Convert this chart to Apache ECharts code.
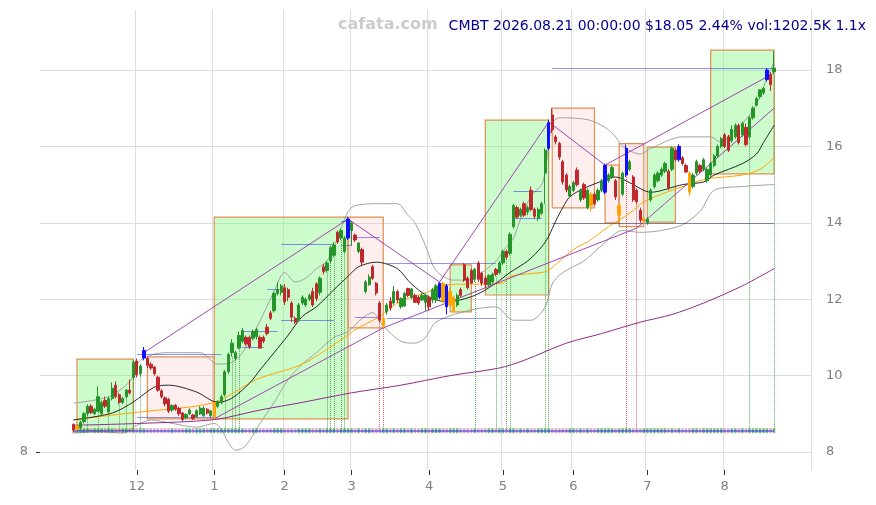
<!DOCTYPE html>
<html><head><meta charset="utf-8">
<script src="https://cdn.jsdelivr.net/npm/echarts@6/dist/echarts.min.js"></script>
<style>html,body{margin:0;padding:0;background:#fff}#c{width:876px;height:505px}</style>
</head><body><div id="c"></div>
<script>
// ---------- calendar ----------
const firstDay = '2025-11-04', lastDay = '2026-08-21';
const holidays = ['2025-11-27','2025-12-25','2026-01-01','2026-01-19','2026-02-16','2026-04-03','2026-05-25','2026-06-19','2026-07-03'];
const padBefore = 9, padAfter = 10;

// ---------- OHLC: [open, close, low, high] per trading day ----------
const ohlc = [
[8.72,8.58,8.52,8.75],[8.6,8.68,8.55,8.72],[8.64,8.78,8.6,8.82],[8.8,9.0,8.75,9.05],[9.0,9.2,8.95,9.25],
[9.2,9.03,9.0,9.25],[9.0,9.12,8.97,9.15],[9.07,9.45,9.05,9.72],[9.0,9.3,8.95,9.35],[9.35,9.2,9.15,9.45],
[9.05,9.4,9.0,9.45],[9.4,9.67,9.35,9.82],[9.75,9.45,9.4,9.85],[9.5,9.3,9.25,9.55],[9.3,9.4,9.25,9.45],
[9.45,9.62,9.4,9.65],[9.62,9.55,9.5,9.9],[9.95,10.35,9.9,10.42],[10.38,10.02,9.95,10.45],[10.05,10.25,9.98,10.3],
[10.46,10.66,10.4,10.75],[10.45,10.27,10.2,10.5],[10.3,10.2,10.15,10.35],[10.22,10.05,10.0,10.25],[9.96,9.62,9.58,10.0],
[9.6,9.45,9.4,9.65],[9.42,9.26,9.2,9.45],[9.38,9.07,9.02,9.42],[9.1,9.22,9.05,9.25],[9.22,9.12,9.08,9.26],
[9.14,9.0,8.95,9.18],[9.02,8.85,8.8,9.05],[8.9,8.98,8.85,9.02],[9.0,9.1,8.96,9.15],[8.97,8.87,8.84,9.0],
[8.93,9.08,8.9,9.12],[9.0,9.15,8.97,9.2],[8.95,9.15,8.92,9.2],[9.12,9.02,8.98,9.15],[8.95,9.08,8.9,9.1],
[8.92,9.28,8.87,9.3],[9.2,9.32,9.15,9.35],[9.3,9.45,9.25,9.5],[9.5,10.1,9.45,10.15],[10.1,10.55,10.05,10.6],
[10.6,10.85,10.5,10.95],[10.45,10.6,10.4,10.65],[10.72,11.05,10.7,11.15],[10.9,11.18,10.85,11.25],[11.0,10.83,10.78,11.05],
[11.0,10.75,10.7,11.05],[10.98,11.15,10.92,11.2],[11.02,11.2,10.95,11.25],[11.0,10.72,10.7,11.05],[11.0,10.9,10.85,11.05],
[11.27,11.1,11.05,11.35],[11.64,11.5,11.45,11.7],[11.7,12.15,11.65,12.2],[12.15,12.25,12.1,12.45],[12.18,12.35,12.1,12.4],
[12.3,11.93,11.85,12.4],[12.25,12.05,11.95,12.3],[11.9,11.53,11.4,11.95],[11.5,11.4,11.35,11.55],[11.45,11.85,11.4,11.9],
[11.9,12.05,11.85,12.1],[11.85,12.0,11.8,12.05],[12.0,12.1,11.95,12.15],[12.2,11.85,11.8,12.3],[12.4,12.02,11.95,12.45],
[12.18,12.55,12.1,12.6],[12.85,12.72,12.65,12.92],[12.75,12.95,12.7,13.0],[13.0,13.35,12.95,13.4],[13.15,13.42,13.1,13.5],
[13.75,13.5,13.45,13.8],[13.6,13.8,13.55,13.85],[13.25,13.6,13.2,13.65],[13.6,14.1,13.55,14.15],[13.8,14.0,13.4,14.05],
[13.68,13.55,13.5,13.72],[13.25,13.47,13.2,13.5],[13.3,12.97,12.9,13.35],[12.2,12.45,12.15,12.5],[12.38,12.58,12.35,12.65],
[12.85,12.55,12.5,12.9],[12.42,12.16,12.1,12.45],[11.9,11.45,11.4,11.95],[11.3,11.5,11.25,11.55],[11.67,11.85,11.6,11.9],
[11.95,11.77,11.7,12.05],[11.9,12.2,11.85,12.35],[12.2,11.98,11.9,12.25],[11.8,12.02,11.75,12.05],[11.82,12.15,11.8,12.2],
[12.28,12.1,12.05,12.3],[12.05,12.27,12.0,12.3],[12.1,11.92,11.9,12.15],[12.05,11.9,11.85,12.1],[11.98,12.1,11.95,12.15],
[11.92,12.1,11.7,12.15],[12.05,11.8,11.7,12.1],[11.98,12.25,11.9,12.3],[11.98,12.35,11.9,12.4],[12.05,12.42,12.0,12.45],
[12.42,11.95,11.9,12.45],[12.35,11.8,11.6,12.4],[11.85,12.2,11.8,12.3],[11.67,12.05,11.65,12.1],[11.85,12.1,11.8,12.15],
[12.25,12.1,12.05,12.3],[12.9,12.5,12.45,12.95],[12.55,12.3,12.25,12.6],[12.75,12.42,12.4,12.8],[12.52,12.78,12.45,12.82],
[12.95,12.52,12.45,13.0],[12.68,12.42,12.35,12.72],[12.55,12.38,12.3,12.6],[12.38,12.62,12.35,12.65],[12.45,12.65,12.4,12.7],
[12.78,12.65,12.6,12.82],[12.7,12.95,12.65,13.0],[12.95,13.25,12.9,13.3],[13.25,13.1,13.05,13.3],[13.2,13.7,13.15,13.75],
[13.9,14.45,13.85,14.5],[14.4,14.15,14.1,14.45],[14.2,14.35,14.15,14.4],[14.5,14.2,14.15,14.55],[14.28,14.4,14.2,14.45],
[14.85,14.35,14.3,14.95],[14.35,14.17,14.1,14.4],[14.12,14.35,14.05,14.4],[14.25,14.5,14.2,14.55],[15.3,15.9,14.5,15.95],
[15.95,16.62,15.9,16.7],[16.82,16.43,16.35,17.0],[16.25,16.12,16.05,16.3],[16.08,15.72,15.65,16.12],[15.6,15.07,15.0,15.65],
[15.25,14.86,14.8,15.3],[14.7,14.95,14.65,15.0],[14.85,15.05,14.8,15.1],[15.38,15.0,14.95,15.45],[14.6,14.85,14.55,14.9],
[15.0,14.65,14.6,15.05],[14.4,14.85,14.35,14.9],[14.75,14.45,14.3,14.8],[14.75,14.5,14.45,14.8],[14.6,14.85,14.55,14.9],
[14.85,15.1,14.8,15.15],[14.8,15.5,14.75,15.55],[15.1,15.25,15.05,15.3],[15.2,15.45,15.15,15.5],[15.1,14.68,14.6,15.15],
[14.2,14.45,14.0,14.5],[14.75,15.3,14.7,15.35],[15.25,15.95,15.2,16.05],[15.4,15.6,15.35,15.65],[15.2,14.6,14.55,15.25],
[14.85,14.55,14.5,14.9],[14.33,14.07,14.0,14.4],[14.05,14.12,13.95,14.15],[14.0,14.1,13.95,14.15],[14.6,14.85,14.55,14.9],
[14.95,15.25,14.9,15.3],[15.1,15.3,15.05,15.35],[15.25,15.4,15.2,15.45],[15.35,15.55,15.3,15.6],[15.35,14.92,14.85,15.4],
[15.4,15.95,15.35,16.0],[15.9,15.65,15.6,15.95],[15.65,16.0,15.6,16.05],[15.7,15.55,15.5,15.75],[15.5,15.33,15.3,15.55],
[15.3,14.8,14.7,15.35],[14.95,15.25,14.9,15.3],[15.3,15.6,15.25,15.65],[15.5,15.35,15.3,15.55],[15.4,15.65,15.35,15.7],
[15.1,15.4,15.05,15.45],[15.25,15.55,15.2,15.6],[15.5,15.75,15.45,15.8],[15.75,16.0,15.7,16.05],[16.0,16.2,15.95,16.25],
[16.3,16.0,15.95,16.35],[16.25,15.9,15.85,16.3],[16.15,16.45,16.1,16.55],[16.25,16.55,16.2,16.6],[16.55,16.1,16.05,16.6],
[16.3,16.6,16.25,16.65],[16.5,16.05,16.0,16.6],[16.25,16.75,16.2,16.8],[16.75,17.0,16.7,17.05],[17.08,17.25,17.05,17.3],
[17.3,17.48,17.25,17.5],[17.4,17.52,17.35,17.55],[17.75,18.0,17.7,18.05],[17.88,17.62,17.45,17.95],[17.95,18.05,17.9,18.5]
];
const blueBars = [20, 78, 104, 106, 135, 151, 157, 172, 197];
const orangeBars = [1, 40, 88, 105, 107, 108, 147, 155, 162, 175];

// ---------- indicator lines: [day index, value] ----------
const maBlack = [[0,8.84],[11,9.02],[17,9.31],[23,9.7],[27,9.75],[35,9.57],[39,9.36],[41,9.3],[45,9.41],[50,9.8],[53,10.15],[57,10.6],[61,11.06],[65,11.55],[69,11.8],[74,12.25],[78,12.6],[81,12.85],[86,12.97],[92,12.8],[96,12.4],[101,12.06],[106,11.93],[114,12.1],[120,12.42],[124,12.7],[129,13.0],[133,13.37],[135,13.65],[137,14.05],[139,14.4],[141,14.68],[145,14.9],[151,15.12],[154,15.2],[158,15.05],[164,14.8],[173,15.0],[179,15.07],[182,15.25],[190,15.55],[194,15.8],[196,16.1],[199,16.55]];
const maOrange = [[0,8.85],[19,9.05],[40,9.3],[52,9.9],[65,10.3],[77,11.0],[80,11.2],[87,11.55],[93,11.95],[101,12.2],[105,12.37],[122,12.42],[124,12.6],[133,12.7],[135,12.76],[142,13.3],[146,13.5],[152,13.9],[158,14.25],[162,14.55],[173,14.95],[180,15.15],[190,15.25],[195,15.4],[199,15.7]];
const maPurple = [[0,8.7],[19,8.75],[40,8.85],[53,9.1],[65,9.3],[79,9.55],[93,9.75],[107,10.0],[121,10.2],[128,10.4],[140,10.85],[150,11.1],[161,11.4],[170,11.6],[179,11.9],[190,12.35],[199,12.8]];
const bandUpper = [[0,9.28],[10,9.45],[16,9.85],[19,10.4],[26,10.6],[36,10.6],[41,10.3],[45,10.35],[48,10.6],[52,11.25],[57,12.2],[60,12.7],[63,12.45],[66,12.55],[69,12.8],[72,13.0],[75,13.6],[78,14.3],[80,14.45],[86,14.5],[92,14.5],[95,14.2],[97,14.0],[100,13.4],[103,12.75],[108,12.5],[112,12.5],[116,12.7],[120,13.0],[123,13.37],[125,13.6],[127,14.1],[130,14.7],[133,15.0],[134,15.35],[136,16.6],[138,16.75],[146,16.7],[151,16.5],[154,16.25],[156,16.0],[161,15.8],[164,15.95],[173,16.25],[178,16.25],[181,16.25],[184,16.1],[187,16.35],[190,16.6],[193,16.95],[195,17.3],[197,17.8],[199,18.2]];
const bandLower = [[0,8.5],[7,8.53],[14,8.5],[18,8.7],[22,8.84],[28,8.75],[35,8.65],[40,8.75],[42,8.6],[44,8.25],[46,8.05],[48,8.1],[50,8.3],[53,8.75],[57,9.3],[61,9.9],[65,10.3],[69,10.6],[74,11.0],[78,11.15],[82,11.5],[85,11.65],[88,11.3],[93,10.9],[97,10.85],[100,11.0],[103,11.4],[112,11.7],[120,11.8],[125,11.45],[130,11.45],[134,11.8],[136,12.4],[139,12.7],[145,13.0],[150,13.4],[156,13.8],[161,13.75],[167,13.8],[173,13.95],[178,14.3],[182,14.85],[190,14.95],[199,15.0]];

// ---------- pattern boxes: [start day, end day, low, high, kind] ----------
const boxes = [
[1,17,8.57,10.43,'up'],[21,40,8.87,10.49,'down'],[40,78,8.87,14.15,'up'],[78,88,11.25,14.15,'down'],
[107,113,11.67,12.9,'up'],[117,135,12.11,16.69,'up'],[136,148,14.39,17.0,'down'],[151,155,14.0,15.51,'down'],
[155,162,13.9,16.07,'down'],[163,171,14.02,15.98,'up'],[181,199,15.28,18.52,'up']
];
// support / resistance segments: [start day, end day, price]
const levels = [
[18,42,10.56],[18,40,8.92],[48,54,10.75],[48,58,11.15],[55,59,12.27],[59,74,13.45],[59,74,11.45],
[76,79,14.05],[76,79,13.42],[80,87,13.63],[80,87,11.53],[89,120,12.95],[89,120,11.5],
[125,133,14.83],[125,133,14.12],[136,199,18.05]
];
const darkLevels = [[136,199,14.0]];
const baseLevel = [[0,199,8.55]];
// swing zigzag through highs/lows, and line through the swing lows: [day, price] points
const zigzag = [[20,10.6],[78,14.1],[104,12.45],[135,16.64],[151,15.51],[199,17.92]];
const lowLine = [[40,8.87],[88,11.25],[160,13.86],[199,17.0]];
// signal days (dotted verticals)
const greenSignals = [4,7,10,13,15,17,19,43,45,46,47,72,73,74,76,77,114,120,123,124,134,135,192,199];
const redSignals = [87,88,157,160];
const yTicks = [8,10,12,14,16,18];

// ---------- build ----------
const allDays = [];
for (let t = Date.UTC(2025,9,1); t <= Date.UTC(2026,8,30); t += 86400000) {
  const d = new Date(t), wd = d.getUTCDay();
  if (wd === 0 || wd === 6) continue;
  const s = d.toISOString().slice(0,10);
  if (holidays.includes(s)) continue;
  allDays.push(s);
}
const i0 = allDays.indexOf(firstDay), i1 = allDays.indexOf(lastDay);
const categories = allDays.slice(i0 - padBefore, i1 + padAfter + 1);
const X = i => i + padBefore;
const UP = '#25952a', DOWN = '#c0282c';

const monthStart = k => {
  const i = k - padBefore;
  if (i <= 0 || i >= ohlc.length) return false;
  return categories[k].slice(5,7) !== categories[k-1].slice(5,7);
};

const candleData = categories.map((c, k) => {
  const i = k - padBefore;
  if (i < 0 || i >= ohlc.length) return '-';
  const v = ohlc[i];
  let col = null;
  if (blueBars.includes(i)) col = '#1010ff';
  if (orangeBars.includes(i)) col = '#ffa500';
  return col ? { value: v, itemStyle: { color: col, color0: col, borderColor: col, borderColor0: col } } : v;
});
const pairs = arr => arr.map(([i, v]) => [X(i), v]);
const segs = arr => arr.map(([a, b, p]) => ({ coords: [[X(a), p], [X(b), p]] }));
const stripData = ohlc.map((v, i) => ({ value: [X(i), 8.56], itemStyle: { color: v[1] >= v[0] ? 'rgba(50,150,60,0.8)' : 'rgba(200,100,130,0.65)' } }));

const lineSeries = (data, color, width, z) => ({
  type: 'line', data: pairs(data), symbol: 'none', smooth: 0.3, z: z || 3,
  lineStyle: { color, width }, silent: true, animation: false
});

const option = {
  animation: false,
  backgroundColor: '#fff',
  title: [
    { text: 'cafata.com', left: 333, top: 12, textStyle: { color: '#cccccc', fontSize: 16, fontWeight: 'bold', fontFamily: 'DejaVu Sans' } },
    { text: 'CMBT 2026.08.21 00:00:00 $18.05 2.44% vol:1202.5K 1.1x', right: 5, top: 14, textStyle: { color: '#00008b', fontSize: 14, fontWeight: 'normal', fontFamily: 'DejaVu Sans' } }
  ],
  grid: { left: 40, right: 65, top: 10, bottom: 35 },
  xAxis: {
    type: 'category', data: categories, boundaryGap: true,
    axisLine: { show: false },
    axisTick: { show: true, alignWithLabel: true, interval: (k) => monthStart(k), length: 5, lineStyle: { color: '#333' } },
    axisLabel: { interval: (k) => monthStart(k), formatter: v => String(parseInt(v.slice(5,7), 10)), color: '#808080', fontSize: 13, fontFamily: 'DejaVu Sans', margin: 10 },
    splitLine: { show: true, interval: (k) => monthStart(k), lineStyle: { color: '#dddddd', width: 1 } }
  },
  yAxis: [
    { type: 'value', position: 'right', min: 7.53, max: 19.57, scale: true,
      axisLine: { show: false },
      axisTick: { show: false, customValues: yTicks },
      axisLabel: { customValues: yTicks, color: '#808080', fontSize: 13, fontFamily: 'DejaVu Sans', margin: 15 },
      splitLine: { show: true, lineStyle: { color: '#dddddd', width: 1 } } },
    { type: 'value', position: 'left', min: 7.53, max: 19.57, scale: true,
      axisLine: { show: false },
      axisTick: { show: true, customValues: [8], length: 4, lineStyle: { color: '#333' } },
      axisLabel: { customValues: [8], color: '#808080', fontSize: 13, fontFamily: 'DejaVu Sans', margin: 12 },
      splitLine: { show: false } }
  ],
  series: [
    { type: 'custom', z: 1, silent: true,
      renderItem: (params, api) => {
        const p1 = api.coord([api.value(0), api.value(3)]);
        const p2 = api.coord([api.value(1), api.value(2)]);
        const up = api.value(4) === 1;
        return { type: 'rect', shape: { x: p1[0], y: p1[1], width: p2[0] - p1[0], height: p2[1] - p1[1] },
          style: { fill: up ? 'rgba(120,245,120,0.38)' : 'rgba(255,170,170,0.2)', stroke: '#e09050', lineWidth: 1.2 } };
      },
      encode: { x: [0, 1], y: [2, 3] },
      data: boxes.map(b => [X(b[0]), X(b[1]), b[2], b[3], b[4] === 'up' ? 1 : 0]) },
    lineSeries(bandUpper, '#999999', 0.9, 2),
    lineSeries(bandLower, '#999999', 0.9, 2),
    lineSeries(maPurple, '#8e2a8e', 1, 3),
    lineSeries(maOrange, '#ffa500', 1, 3),
    lineSeries(maBlack, '#111111', 0.9, 3),
    { type: 'lines', coordinateSystem: 'cartesian2d', polyline: true, z: 4, silent: true,
      lineStyle: { color: '#9933aa', width: 1, opacity: 0.9 },
      data: [{ coords: pairs(zigzag) }, { coords: pairs(lowLine) }] },
    { type: 'lines', coordinateSystem: 'cartesian2d', z: 3, silent: true,
      lineStyle: { color: '#3a9a3a', width: 1, type: 'dotted', opacity: 0.85 },
      data: greenSignals.map(i => ({ coords: [[X(i), ohlc[i][2]], [X(i), 8.57]] })) },
    { type: 'lines', coordinateSystem: 'cartesian2d', z: 3, silent: true,
      lineStyle: { color: '#d04848', width: 1, type: 'dotted', opacity: 0.85 },
      data: redSignals.map(i => ({ coords: [[X(i), ohlc[i][2]], [X(i), 8.57]] })) },
    { type: 'scatter', symbol: 'rect', symbolSize: [2.5, 5], z: 4, silent: true, data: stripData },
    { type: 'lines', coordinateSystem: 'cartesian2d', z: 5, silent: true,
      lineStyle: { color: '#2424ee', width: 1 }, data: segs(levels) },
    { type: 'lines', coordinateSystem: 'cartesian2d', z: 5, silent: true,
      lineStyle: { color: '#222255', width: 1 }, data: segs(darkLevels) },
    { type: 'lines', coordinateSystem: 'cartesian2d', z: 5, silent: true,
      lineStyle: { color: '#2a2aee', width: 2 }, data: segs(baseLevel) },
    { type: 'candlestick', data: candleData, z: 6, barWidth: 2.8,
      itemStyle: { color: UP, color0: DOWN, borderColor: UP, borderColor0: DOWN, borderWidth: 1 } }
  ]
};
const chart = echarts.init(document.getElementById('c'));
chart.setOption(option);
</script>
</body></html>
